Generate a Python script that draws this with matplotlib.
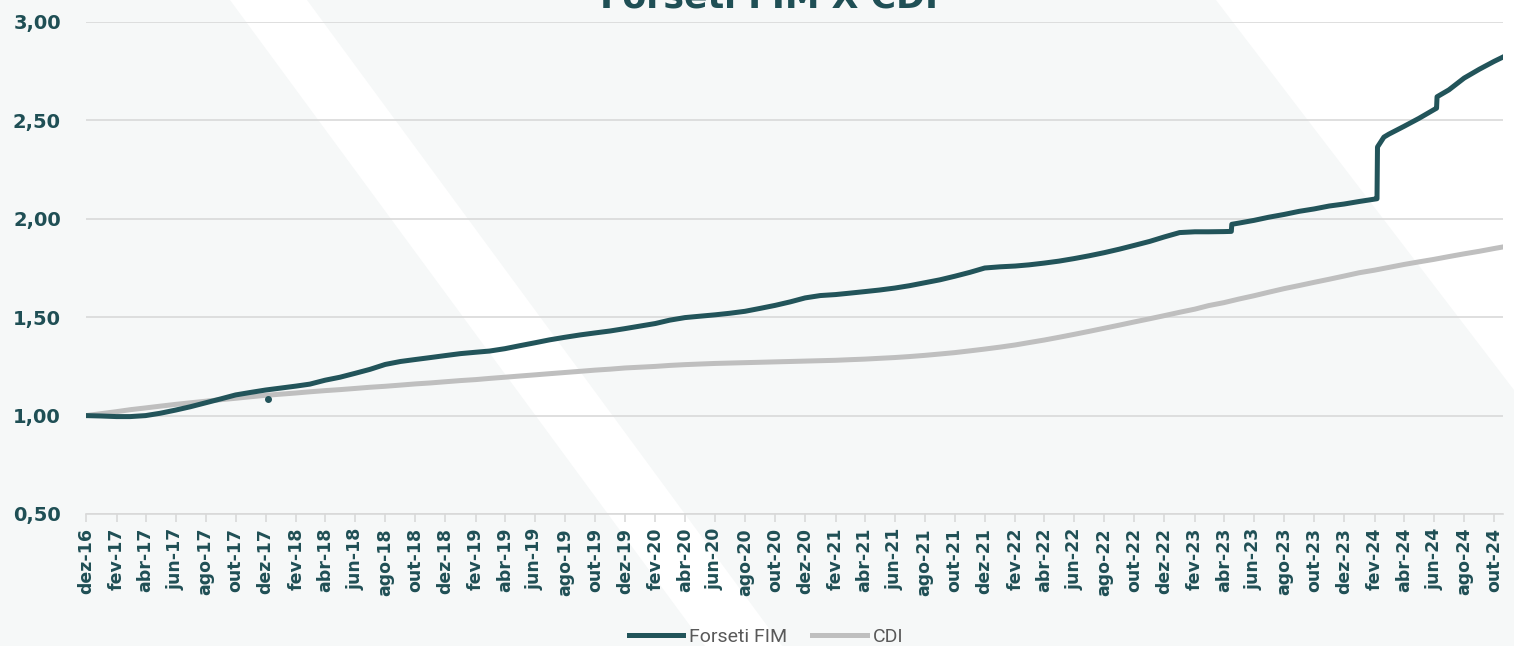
import matplotlib.pyplot as plt
from matplotlib.patches import Polygon
from matplotlib.ticker import FuncFormatter
import pandas as pd

# monthly values (1st of each month), dez-16 .. out-24
fim_monthly = [
    1.000, 0.998, 0.995, 0.995, 1.000, 1.012, 1.028, 1.045, 1.065, 1.085, 1.105, 1.118, 1.130,
    1.140, 1.150, 1.160, 1.180, 1.195, 1.215, 1.235, 1.260, 1.275, 1.285, 1.295, 1.305,
    1.315, 1.322, 1.328, 1.340, 1.355, 1.370, 1.385, 1.398, 1.410, 1.420, 1.430, 1.442,
    1.455, 1.468, 1.485, 1.498, 1.505, 1.512, 1.520, 1.530, 1.545, 1.560, 1.578, 1.598,
    1.610, 1.615, 1.622, 1.630, 1.638, 1.648, 1.660, 1.675, 1.690, 1.708, 1.728, 1.750,
    1.756, 1.760, 1.766, 1.775, 1.785, 1.798, 1.812, 1.828, 1.846, 1.865, 1.885, 1.908,
    1.930, 1.934, 1.934, 1.935, 1.978, 1.992, 2.008, 2.022, 2.038, 2.050, 2.065, 2.075,
    2.088, 2.100, 2.430, 2.470, 2.510, 2.555, 2.655, 2.715, 2.760, 2.800,
]
cdi_monthly = [
    1.000, 1.010, 1.020, 1.030, 1.039, 1.048, 1.057, 1.065, 1.073, 1.081, 1.088, 1.096, 1.103,
    1.109, 1.115, 1.121, 1.127, 1.132, 1.138, 1.144, 1.149, 1.155, 1.161, 1.166, 1.172,
    1.178, 1.183, 1.189, 1.195, 1.201, 1.207, 1.213, 1.219, 1.225, 1.231, 1.236, 1.242,
    1.246, 1.250, 1.255, 1.259, 1.262, 1.265, 1.267, 1.269, 1.271, 1.273, 1.275, 1.277,
    1.279, 1.281, 1.284, 1.287, 1.291, 1.295, 1.300, 1.306, 1.313, 1.320, 1.329, 1.338,
    1.348, 1.359, 1.371, 1.384, 1.398, 1.413, 1.428, 1.444, 1.460, 1.476, 1.492, 1.508,
    1.525, 1.541, 1.559, 1.574, 1.592, 1.609, 1.627, 1.645, 1.661, 1.677, 1.693, 1.709,
    1.726, 1.739, 1.753, 1.768, 1.781, 1.794, 1.808, 1.822, 1.835, 1.849,
]
# daily points around the jumps and the last quote
fim_extra_dates = ['2023-04-16', '2023-04-17', '2024-02-06', '2024-02-07', '2024-02-20',
                   '2024-06-06', '2024-06-07', '2024-10-19']
fim_extra_values = [1.936, 1.972, 2.102, 2.365, 2.415, 2.562, 2.620, 2.822]
cdi_extra_dates = ['2024-10-19']
cdi_extra_values = [1.857]
# lone quote in dez-17
fim_dot_date = ['2017-12-05']
fim_dot_value = [1.085]

meses = ['jan', 'fev', 'mar', 'abr', 'mai', 'jun', 'jul', 'ago', 'set', 'out', 'nov', 'dez']

months = pd.date_range('2016-12-01', '2024-10-01', freq='MS')
fim = pd.concat([pd.Series(fim_monthly, index=months),
                 pd.Series(fim_extra_values, index=pd.to_datetime(fim_extra_dates))]).sort_index()
cdi = pd.concat([pd.Series(cdi_monthly, index=months),
                 pd.Series(cdi_extra_values, index=pd.to_datetime(cdi_extra_dates))]).sort_index()

teal = '#22545a'
grey_line = '#bfbfbf'
grid = '#d9d9d9'
label_c = '#1f4f55'

fig = plt.figure(figsize=(15.14, 6.46), dpi=100, facecolor='#f6f8f8')

# white diagonal stripes in the background
fig.patches.append(Polygon([(230 / 1514, 1), (307 / 1514, 1), (782 / 1514, 0), (705 / 1514, 0)],
                           closed=True, transform=fig.transFigure, facecolor='white',
                           edgecolor='none', zorder=-10))
fig.patches.append(Polygon([(1216 / 1514, 1), (1, 1), (1, 1 - 390 / 646)],
                           closed=True, transform=fig.transFigure, facecolor='white',
                           edgecolor='none', zorder=-10))

ax = fig.add_axes([86 / 1514, 1 - 514 / 646, (1503 - 86) / 1514, (514 - 22) / 646])
ax.set_facecolor('none')

ax.plot(fim.index, fim.values, color=teal, lw=3.6, solid_joinstyle='round', label='Forseti FIM', zorder=3)
ax.plot(cdi.index, cdi.values, color=grey_line, lw=3.6, label='CDI', zorder=2)
ax.plot(pd.to_datetime(fim_dot_date), fim_dot_value, 'o', color=teal, ms=4, zorder=3)

ax.set_ylim(0.5, 3.0)
ax.set_yticks([0.5, 1.0, 1.5, 2.0, 2.5, 3.0])
ax.yaxis.set_major_formatter(FuncFormatter(lambda v, p: f'{v:.2f}'.replace('.', ',')))
ax.grid(axis='y', color=grid, lw=1.2)
ax.set_axisbelow(True)

ax.set_xlim(pd.Timestamp('2016-12-01'), pd.Timestamp('2024-10-19'))
ticks = months[::2]
ax.set_xticks(ticks)
ax.set_xticklabels([f'{meses[d.month - 1]}-{d.year % 100:02d}' for d in ticks], rotation=90)

for s in ['top', 'right', 'left']:
    ax.spines[s].set_visible(False)
ax.spines['bottom'].set_color(grid)
ax.spines['bottom'].set_linewidth(1.2)
ax.tick_params(axis='x', length=6, width=1.2, color=grid, pad=4)
ax.tick_params(axis='y', length=0, pad=18)
for lab in ax.get_xticklabels():
    lab.set_fontsize(12.5)
    lab.set_fontweight('bold')
    lab.set_color(label_c)
for lab in ax.get_yticklabels():
    lab.set_fontsize(14)
    lab.set_fontweight('bold')
    lab.set_color(label_c)

fig.text(769 / 1514, 1 - 8 / 646, 'Forseti FIM X CDI', ha='center', va='baseline',
         fontsize=25, fontweight='bold', color=label_c)

leg = fig.legend(loc='center', bbox_to_anchor=(766 / 1514, 1 - 637 / 646), ncol=2, frameon=False,
                 handlelength=2.8, handletextpad=0.3, columnspacing=1.3,
                 prop={'family': 'Roboto', 'size': 14})
for t in leg.get_texts():
    t.set_color('#595959')

fig.savefig('out.png', dpi=100, facecolor=fig.get_facecolor())
